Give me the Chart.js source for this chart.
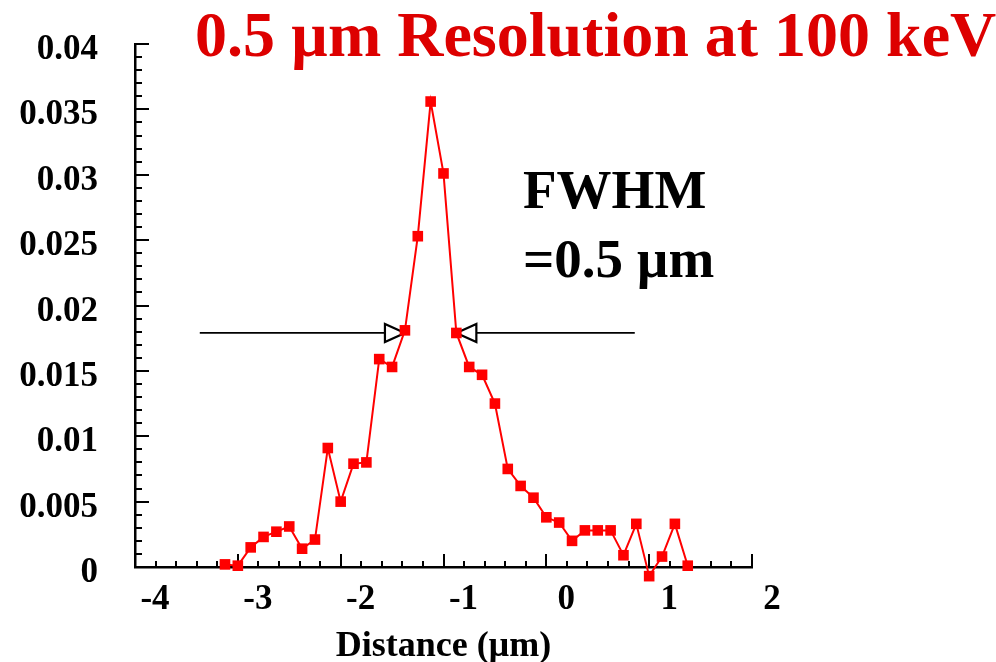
<!DOCTYPE html>
<html>
<head>
<meta charset="utf-8">
<script src="https://cdn.jsdelivr.net/npm/chart.js@4.4.0/dist/chart.umd.min.js"></script>
<style>
  html, body { margin: 0; padding: 0; background: #fff; }
  #wrap { position: relative; width: 996px; height: 662px; }
  .note { position: absolute; white-space: nowrap; font-family: 'Liberation Serif', 'Times New Roman', serif; font-weight: bold; line-height: 1; }
  #title { left: 195px; top: 3px; font-size: 64px; color: #dd0000; }
  #fwhm { left: 523px; top: 162px; font-size: 55px; color: #000; }
  #fwhm div + div { margin-top: 14px; }
</style>
</head>
<body>
<div id="wrap">
  <canvas id="profile" width="996" height="662"></canvas>
  <div id="title" class="note">0.5 µm Resolution at 100 keV</div>
  <div id="fwhm" class="note"><div>FWHM</div><div>=0.5 µm</div></div>
</div>
<script>
// beam profile across the edge
const distance = [
  -3.125, -3.0, -2.875, -2.75, -2.625, -2.5, -2.375, -2.25, -2.125, -2.0,
  -1.875, -1.75, -1.625, -1.5, -1.375, -1.25, -1.125, -1.0, -0.875, -0.75,
  -0.625, -0.5, -0.375, -0.25, -0.125, 0.0, 0.125, 0.25, 0.375, 0.5,
  0.625, 0.75, 0.875, 1.0, 1.125, 1.25, 1.375
];
const intensity = [
  0.0002, 0.0001, 0.0015, 0.0023, 0.0027, 0.0031, 0.0014, 0.0021, 0.0091, 0.0050,
  0.0079, 0.0080, 0.0159, 0.0153, 0.0181, 0.0253, 0.0356, 0.0301, 0.0179, 0.0153,
  0.0147, 0.0125, 0.0075, 0.0062, 0.0053, 0.0038, 0.0034, 0.0020, 0.0028, 0.0028,
  0.0028, 0.0009, 0.0033, -0.0007, 0.0008, 0.0033, 0.0001
];

// axis ranges
const xRange = [-4, 2];
const xStep = 1;
const xMinorStep = 0.2;
const yRange = [0, 0.04];
const yStep = 0.005;
const yMinorStep = 0.001;

// half-maximum markers: arrow tails and tips, at the half-max level
const halfMax = 0.0179;
const fwhmEdges = [-1.375, -0.875];
const arrowTails = [-3.37, 0.86];

const SERIF = "'Liberation Serif', 'Times New Roman', serif";

// inward tick marks on both axes
const tickMarks = {
  id: 'tickMarks',
  beforeDatasetsDraw(chart) {
    const { ctx, scales: { x, y } } = chart;
    ctx.save();
    ctx.strokeStyle = '#000';
    ctx.lineWidth = 2;
    ctx.beginPath();
    const nx = Math.round((xRange[1] - xRange[0]) / xMinorStep);
    for (let i = 0; i <= nx; i++) {
      const v = xRange[0] + i * xMinorStep;
      const px = Math.round(x.getPixelForValue(v));
      const len = i % 5 === 0 ? 13 : 6;
      ctx.moveTo(px, y.bottom);
      ctx.lineTo(px, y.bottom - len);
    }
    const ny = Math.round((yRange[1] - yRange[0]) / yMinorStep);
    for (let i = 0; i <= ny; i++) {
      const v = yRange[0] + i * yMinorStep;
      const py = Math.round(y.getPixelForValue(v));
      const len = i % 5 === 0 ? 14 : 7;
      ctx.moveTo(x.left, py);
      ctx.lineTo(x.left + len, py);
    }
    ctx.stroke();
    ctx.restore();
  }
};

// FWHM arrows with open triangular heads
const fwhmArrows = {
  id: 'fwhmArrows',
  beforeDatasetsDraw(chart) {
    const { ctx, scales: { x, y } } = chart;
    const py = y.getPixelForValue(halfMax);
    const head = 20, half = 9;
    ctx.save();
    ctx.strokeStyle = '#000';
    ctx.fillStyle = '#fff';
    for (let k = 0; k < 2; k++) {
      const tip = x.getPixelForValue(fwhmEdges[k]);
      const tail = x.getPixelForValue(arrowTails[k]);
      const dir = tail < tip ? 1 : -1;
      const base = tip - dir * head;
      ctx.lineWidth = 1.7;
      ctx.beginPath();
      ctx.moveTo(tail, py);
      ctx.lineTo(base, py);
      ctx.stroke();
      ctx.lineWidth = 2.2;
      ctx.beginPath();
      ctx.moveTo(tip, py);
      ctx.lineTo(base, py - half);
      ctx.lineTo(base, py + half);
      ctx.closePath();
      ctx.fill();
      ctx.stroke();
    }
    ctx.restore();
  }
};

// markers that fall below the x axis are skipped by the line controller,
// so draw those again against the whole canvas
const outsideMarkers = {
  id: 'outsideMarkers',
  afterDatasetsDraw(chart) {
    const area = chart.chartArea;
    const full = { left: 0, top: 0, right: chart.width, bottom: chart.height };
    chart.getDatasetMeta(0).data.forEach(pt => {
      if (pt.y > area.bottom || pt.y < area.top) pt.draw(chart.ctx, full);
    });
  }
};

new Chart(document.getElementById('profile'), {
  type: 'line',
  data: {
    datasets: [{
      data: distance.map((d, i) => ({ x: d, y: intensity[i] })),
      borderColor: '#ff0000',
      backgroundColor: '#ff0000',
      borderWidth: 2,
      pointStyle: 'rect',
      pointRadius: 7.5,
      pointBorderWidth: 0,
      tension: 0,
      clip: false
    }]
  },
  options: {
    responsive: false,
    animation: false,
    devicePixelRatio: 1,
    layout: { padding: { top: 44, right: 244, left: 0, bottom: 0 } },
    plugins: { legend: { display: false }, tooltip: { enabled: false } },
    scales: {
      x: {
        type: 'linear',
        min: xRange[0],
        max: xRange[1],
        afterFit: s => { s.height = 95; s.paddingLeft = 0; s.paddingRight = 0; },
        grid: { display: false, drawTicks: false },
        border: { display: true, color: '#000', width: 2.5 },
        ticks: {
          stepSize: xStep,
          padding: 12,
          labelOffset: 20,
          color: '#000',
          font: { family: SERIF, size: 35, weight: 'bold' }
        },
        title: {
          display: true,
          text: 'Distance (µm)',
          color: '#000',
          padding: { top: 0, bottom: -6 },
          font: { family: SERIF, size: 36, weight: 'bold' }
        }
      },
      y: {
        min: yRange[0],
        max: yRange[1],
        afterFit: s => { s.width = 135; s.paddingTop = 0; s.paddingBottom = 0; },
        grid: { display: false, drawTicks: false },
        border: { display: true, color: '#000', width: 2.5 },
        ticks: {
          stepSize: yStep,
          padding: 37,
          labelOffset: 6,
          color: '#000',
          font: { family: SERIF, size: 35, weight: 'bold' },
          callback: v => String(+v.toFixed(3))
        }
      }
    }
  },
  plugins: [tickMarks, fwhmArrows, outsideMarkers]
});
</script>
</body>
</html>
